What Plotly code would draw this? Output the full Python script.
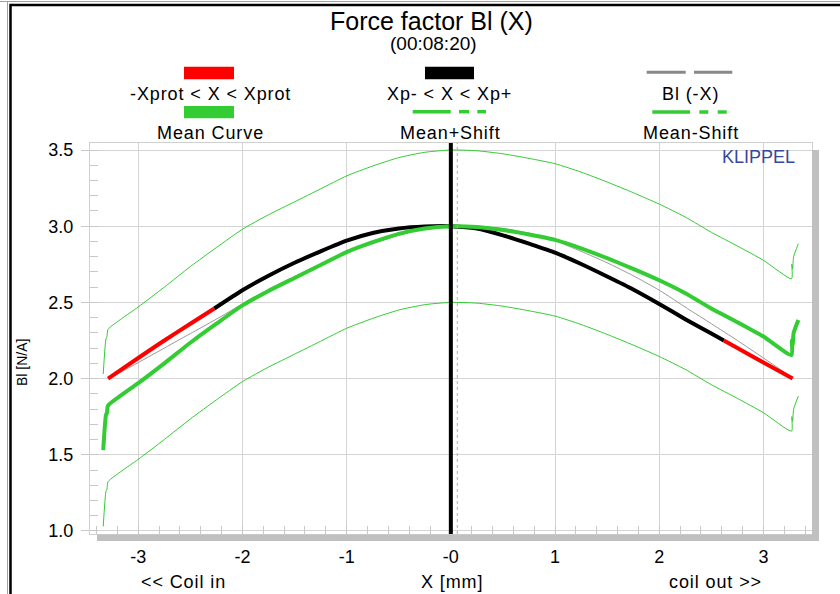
import plotly.graph_objects as go

# ---------------- data ----------------
bl_x = [-3.29, -3.0, -2.75, -2.5, -2.27, -2.0, -1.75, -1.5, -1.25, -1.0, -0.75, -0.5, -0.25, 0.0,
        0.25, 0.5, 0.75, 1.0, 1.25, 1.5, 1.75, 2.0, 2.25, 2.5, 2.62, 2.75, 3.0, 3.28]
bl_y = [2.00, 2.135, 2.25, 2.36, 2.46, 2.58, 2.675, 2.76, 2.835, 2.905, 2.955, 2.985, 2.998, 3.0,
        2.985, 2.94, 2.885, 2.827, 2.752, 2.67, 2.585, 2.49, 2.39, 2.295, 2.25, 2.2, 2.105, 2.0]
xp_minus = -2.27
xp_plus = 2.62

mean_x = [-3.336, -3.31, -3.30, -3.29, -3.16, -3.0, -2.75, -2.5, -2.25, -2.0, -1.75, -1.5, -1.25,
          -1.0, -0.75, -0.5, -0.25, 0.0, 0.25, 0.5, 0.75, 1.0, 1.25, 1.5, 1.75, 2.0, 2.25, 2.5,
          2.75, 3.0, 3.27, 3.272, 3.28, 3.29, 3.335]
mean_y = [1.53, 1.76, 1.775, 1.823, 1.893, 1.97, 2.10, 2.235, 2.36, 2.48, 2.575, 2.66, 2.745,
          2.83, 2.895, 2.95, 2.985, 3.0, 2.995, 2.975, 2.945, 2.91, 2.855, 2.79, 2.72, 2.645, 2.56,
          2.46, 2.37, 2.276, 2.155, 2.25, 2.22, 2.30, 2.385]
shift = 0.5

x_tickvals = [-3, -2, -1, 0, 1, 2, 3]
x_ticktext = ["-3", "-2", "-1", "-0", "1", "2", "3"]
y_tickvals = [1.0, 1.5, 2.0, 2.5, 3.0, 3.5]
y_ticktext = ["1.0", "1.5", "2.0", "2.5", "3.0", "3.5"]

# derived series
plus_y = [v + shift for v in mean_y]
minus_y = [v - shift for v in mean_y]
mirror_x = [-v for v in reversed(bl_x)]
mirror_y = list(reversed(bl_y))

left_red = [(x, y) for x, y in zip(bl_x, bl_y) if x <= xp_minus]
mid_blk = [(x, y) for x, y in zip(bl_x, bl_y) if xp_minus <= x <= xp_plus]
right_red = [(x, y) for x, y in zip(bl_x, bl_y) if x >= xp_plus]

GREEN = "#33cc33"
FONT = "Liberation Sans, Arial, sans-serif"

W, H = 840, 594
L, R, T, B = 90, 28, 143, 60


def px(x):
    return (x - L) / (W - L - R)


def py(y):
    return (H - B - y) / (H - T - B)


fig = go.Figure()


def line(xs, ys, color, width, smooth=True):
    ln = dict(color=color, width=width)
    if smooth:
        ln.update(shape="spline", smoothing=0.6)
    fig.add_trace(go.Scatter(x=xs, y=ys, mode="lines", line=ln, hoverinfo="skip"))


line(mean_x, plus_y, GREEN, 1)
line(mean_x, minus_y, GREEN, 1)
line(mirror_x, mirror_y, "#999999", 1)
line([p[0] for p in left_red], [p[1] for p in left_red], "#ff0000", 4)
line([p[0] for p in right_red], [p[1] for p in right_red], "#ff0000", 4)
line([p[0] for p in mid_blk], [p[1] for p in mid_blk], "#000000", 4)
line(mean_x, mean_y, GREEN, 4)

shapes = []
# dotted line near zero and thick zero line
shapes.append(dict(type="line", xref="x", yref="paper", x0=0.062, x1=0.062, y0=0, y1=1,
                   line=dict(color="#b0b0b0", width=1, dash="dot")))
shapes.append(dict(type="line", xref="x", yref="paper", x0=0, x1=0, y0=0, y1=1,
                   line=dict(color="black", width=4)))
# shadow of the plot area
shapes.append(dict(type="rect", xref="paper", yref="paper", x0=px(812), x1=px(819), y0=py(541),
                   y1=py(150), fillcolor="#c0c0c0", line=dict(width=0)))
shapes.append(dict(type="rect", xref="paper", yref="paper", x0=px(97), x1=px(819), y0=py(541),
                   y1=py(534.5), fillcolor="#c0c0c0", line=dict(width=0)))
# outer frame
shapes.append(dict(type="line", xref="paper", yref="paper", x0=px(0), x1=px(840), y0=py(1.5),
                   y1=py(1.5), line=dict(color="#a0a0a0", width=1)))
shapes.append(dict(type="line", xref="paper", yref="paper", x0=px(7.5), x1=px(7.5), y0=py(594),
                   y1=py(1.5), line=dict(color="#a0a0a0", width=1)))
shapes.append(dict(type="path", xref="paper", yref="paper",
                   path=f"M {px(10.5)} {py(594)} L {px(10.5)} {py(5)} L {px(840)} {py(5)}",
                   line=dict(color="black", width=2.5)))


def rect(x0, x1, y0, y1, color):
    shapes.append(dict(type="rect", xref="paper", yref="paper", x0=px(x0), x1=px(x1),
                       y0=py(y1), y1=py(y0), fillcolor=color, line=dict(width=0)))


def seg(x0, x1, y, color, width):
    shapes.append(dict(type="line", xref="paper", yref="paper", x0=px(x0), x1=px(x1),
                       y0=py(y), y1=py(y), line=dict(color=color, width=width)))


# legend symbols
rect(184, 234, 66.7, 79.3, "#ff0000")
rect(184, 234, 106, 118.3, GREEN)
rect(425, 474, 66.7, 79.3, "#000000")
seg(412.7, 450.7, 111.7, GREEN, 3.5)
seg(459, 469, 111.7, GREEN, 3.5)
seg(477.3, 486, 111.7, GREEN, 3.5)
seg(646.7, 685.7, 72.3, "#888888", 3)
seg(694, 732.3, 72.3, "#888888", 3)
seg(652.3, 690, 112, GREEN, 3.5)
seg(699.3, 708.3, 112, GREEN, 3.5)
seg(717.7, 726.7, 112, GREEN, 3.5)

annotations = []


def txt(s, x, y, size, color="black", spacing=None, **kw):
    if spacing:
        s = f'<span style="letter-spacing:{spacing}px">{s}</span>'
    annotations.append(dict(text=s, x=px(x), y=py(y), xref="paper", yref="paper",
                            showarrow=False, xanchor="center", yanchor="middle",
                            font=dict(size=size, color=color, family=FONT), **kw))


txt("Force factor Bl (X)", 431, 21, 25)
txt("(00:08:20)", 433.7, 43, 19)
txt("-Xprot &lt; X &lt; Xprot", 210, 94, 18, spacing=0.9)
txt("Xp- &lt; X &lt; Xp+", 449, 94, 18, spacing=0.9)
txt("Bl (-X)", 690, 94, 18, spacing=0.9)
txt("Mean Curve", 210, 133, 18, spacing=0.9)
txt("Mean+Shift", 450.5, 133, 18, spacing=0.9)
txt("Mean-Shift", 690.8, 133, 18, spacing=0.9)
txt("KLIPPEL", 758.5, 157, 18, color="#34489a")
txt("Bl [N/A]", 22, 363, 14, textangle=-90)
txt("&lt;&lt; Coil in", 183, 582, 18, spacing=0.9)
txt("X [mm]", 451.6, 582, 18, spacing=0.9)
txt("coil out &gt;&gt;", 715.7, 582, 18, spacing=0.9)

fig.update_layout(
    width=W, height=H,
    margin=dict(l=L, r=R, t=T, b=B, autoexpand=False),
    paper_bgcolor="white", plot_bgcolor="white",
    showlegend=False,
    font=dict(family=FONT, color="black"),
    shapes=shapes, annotations=annotations,
    xaxis=dict(range=[-3.463, 3.466], tickvals=x_tickvals, ticktext=x_ticktext,
               showgrid=True, gridcolor="#d4d4d4", gridwidth=1, zeroline=False,
               showline=True, linecolor="#d0d0d0", linewidth=1, mirror=True,
               ticks="", tickfont=dict(size=18), ticklabelstandoff=6,
               minor=dict(ticks="inside", dtick=0.2, tick0=0, ticklen=8,
                          tickcolor="#c8c8c8", showgrid=False)),
    yaxis=dict(range=[0.980, 3.546], tickvals=y_tickvals, ticktext=y_ticktext,
               showgrid=True, gridcolor="#d4d4d4", gridwidth=1, zeroline=False,
               showline=True, linecolor="#d0d0d0", linewidth=1, mirror=True,
               ticks="outside", ticklen=8, tickcolor="#c8c8c8", tickfont=dict(size=18),
               ticklabelstandoff=4,
               minor=dict(ticks="inside", dtick=0.1, tick0=0, ticklen=8,
                          tickcolor="#c8c8c8", showgrid=False)),
)

fig.write_html("out.html", config={"displayModeBar": False},
               post_script="document.body.style.margin='0';document.body.style.overflow='hidden';")
